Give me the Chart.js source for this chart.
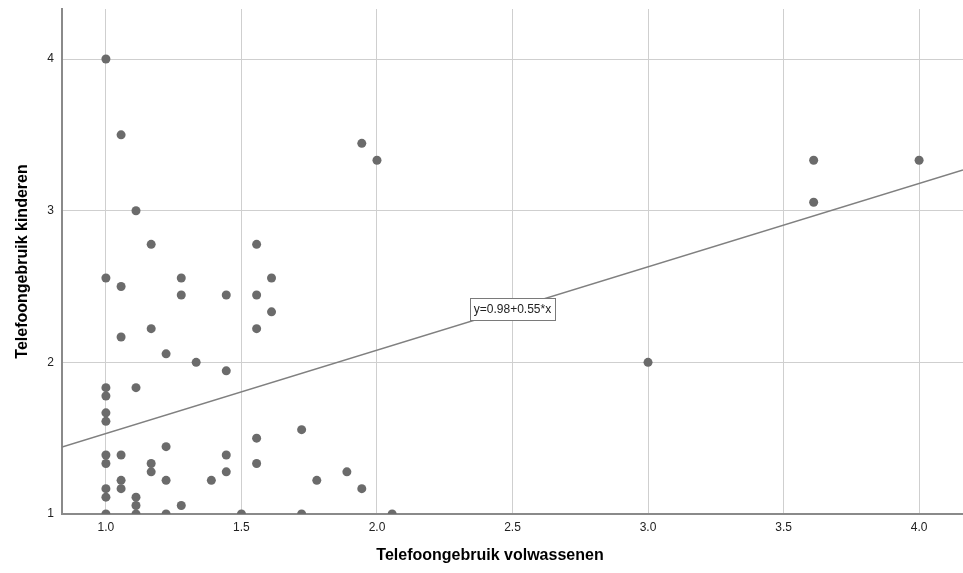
<!DOCTYPE html>
<html>
<head>
<meta charset="utf-8">
<script src="https://cdn.jsdelivr.net/npm/chart.js@4/dist/chart.umd.min.js"></script>
<style>
  html, body { margin: 0; padding: 0; background: #ffffff; }
  #wrap { width: 963px; height: 573px; position: relative; }
</style>
</head>
<body>
<div id="wrap"><canvas id="chart" width="963" height="573"></canvas></div>
<script>
// Observations: adult phone use (x) and child phone use (y)
const adultUse = [
  1.000, 1.000, 1.000, 1.000, 1.000, 1.000, 1.000, 1.000, 1.000, 1.000, 1.000,
  1.056, 1.056, 1.056, 1.056, 1.056, 1.056,
  1.111, 1.111, 1.111, 1.111, 1.111,
  1.167, 1.167, 1.167, 1.167,
  1.222, 1.222, 1.222, 1.222,
  1.278, 1.278, 1.278,
  1.333,
  1.389,
  1.444, 1.444, 1.444, 1.444,
  1.500,
  1.556, 1.556, 1.556, 1.556, 1.556,
  1.611, 1.611,
  1.722, 1.722,
  1.778,
  1.889,
  1.944, 1.944,
  2.000,
  2.056,
  3.000,
  3.611, 3.611,
  4.000
];
const childUse = [
  4.000, 2.556, 1.833, 1.778, 1.667, 1.611, 1.389, 1.333, 1.167, 1.111, 1.000,
  3.500, 2.500, 2.167, 1.389, 1.222, 1.167,
  3.000, 1.833, 1.111, 1.056, 1.000,
  2.778, 2.222, 1.333, 1.278,
  2.056, 1.444, 1.222, 1.000,
  2.556, 2.444, 1.056,
  2.000,
  1.222,
  2.444, 1.944, 1.389, 1.278,
  1.000,
  2.778, 2.444, 2.222, 1.500, 1.333,
  2.556, 2.333,
  1.556, 1.000,
  1.222,
  1.278,
  3.444, 1.167,
  3.333,
  1.000,
  2.000,
  3.333, 3.056,
  3.333
];

// Linear fit shown on the chart
const fitIntercept = 0.98;
const fitSlope = 0.55;
const fitLabel = 'y=0.98+0.55*x';
const fitLabelAt = 2.5;

// Axis ticks and titles
const xTicks = [1.0, 1.5, 2.0, 2.5, 3.0, 3.5, 4.0];
const yTicks = [1, 2, 3, 4];
const xTitle = 'Telefoongebruik volwassenen';
const yTitle = 'Telefoongebruik kinderen';

const X_MIN = 0.838, X_MAX = 4.162;
const Y_MIN = 1.0, Y_MAX = 4.33;

const points = adultUse.map((x, i) => ({ x: x, y: childUse[i] }));
const fitLine = [X_MIN, X_MAX].map(x => ({ x: x, y: fitIntercept + fitSlope * x }));

const tickFont = { family: "'Liberation Sans Narrow', 'Liberation Sans', Arial, sans-serif", size: 12 };
const titleFont = "bold 16px 'Liberation Sans', Arial, sans-serif";

// Axis titles and the fit-equation box
const annotate = {
  id: 'annotate',
  afterDatasetsDraw(chart) {
    const ctx = chart.ctx;
    const xs = chart.scales.x, ys = chart.scales.y;

    // equation label on the fit line
    const lx = xs.getPixelForValue(fitLabelAt);
    const ly = ys.getPixelForValue(fitIntercept + fitSlope * fitLabelAt);
    ctx.save();
    ctx.font = "12px 'Liberation Sans Narrow', 'Liberation Sans', Arial, sans-serif";
    const w = Math.round(ctx.measureText(fitLabel).width + 8);
    const h = 22;
    const bx = Math.round(lx - w / 2) + 0.5, by = Math.round(ly - h / 2) + 0.5;
    ctx.fillStyle = '#ffffff';
    ctx.fillRect(bx, by, w, h);
    ctx.strokeStyle = '#7a7a7a';
    ctx.lineWidth = 1;
    ctx.strokeRect(bx, by, w, h);
    ctx.fillStyle = '#222222';
    ctx.textAlign = 'center';
    ctx.textBaseline = 'middle';
    ctx.fillText(fitLabel, lx, ly + 1);
    ctx.restore();
  },
  afterDraw(chart) {
    const ctx = chart.ctx;
    const area = chart.chartArea;
    ctx.save();
    ctx.fillStyle = '#000000';
    ctx.font = titleFont;
    ctx.textAlign = 'center';
    ctx.textBaseline = 'middle';
    ctx.fillText(xTitle, 490, 556);
    ctx.translate(23, (area.top + area.bottom) / 2);
    ctx.rotate(-Math.PI / 2);
    ctx.fillText(yTitle, 0, 0);
    ctx.restore();
  }
};

// keep tick labels from shrinking the plot area
function noLabelOverflow(s) {
  s.paddingTop = 0; s.paddingBottom = 0; s.paddingLeft = 0; s.paddingRight = 0;
}

new Chart(document.getElementById('chart'), {
  type: 'scatter',
  data: {
    datasets: [
      {
        type: 'line',
        data: fitLine,
        borderColor: '#808080',
        borderWidth: 1.5,
        pointRadius: 0,
        fill: false,
        order: 2
      },
      {
        data: points,
        backgroundColor: '#6b6b6b',
        borderColor: '#6b6b6b',
        borderWidth: 0,
        pointRadius: 4.5,
        pointHoverRadius: 4.5,
        order: 1
      }
    ]
  },
  options: {
    responsive: false,
    animation: false,
    devicePixelRatio: 1,
    layout: { autoPadding: false, padding: { top: 9, right: 0, left: 0, bottom: 0 } },
    plugins: { legend: { display: false }, tooltip: { enabled: false } },
    scales: {
      x: {
        type: 'linear',
        min: X_MIN,
        max: X_MAX,
        afterBuildTicks: s => { s.ticks = xTicks.map(v => ({ value: v })); },
        afterFit: s => { s.height = 59; noLabelOverflow(s); },
        ticks: {
          callback: v => v.toFixed(1),
          font: tickFont,
          color: '#222222',
          padding: 6,
          maxRotation: 0
        },
        grid: { color: '#cfcfcf', lineWidth: 1, drawTicks: false },
        border: { color: '#8a8a8a', width: 2 }
      },
      y: {
        type: 'linear',
        min: Y_MIN,
        max: Y_MAX,
        afterBuildTicks: s => { s.ticks = yTicks.map(v => ({ value: v })); },
        afterFit: s => { s.width = 62; noLabelOverflow(s); },
        ticks: {
          callback: v => String(v),
          font: tickFont,
          color: '#222222',
          padding: 8
        },
        grid: { color: '#cfcfcf', lineWidth: 1, drawTicks: false },
        border: { color: '#8a8a8a', width: 2 }
      }
    }
  },
  plugins: [annotate]
});
</script>
</body>
</html>
